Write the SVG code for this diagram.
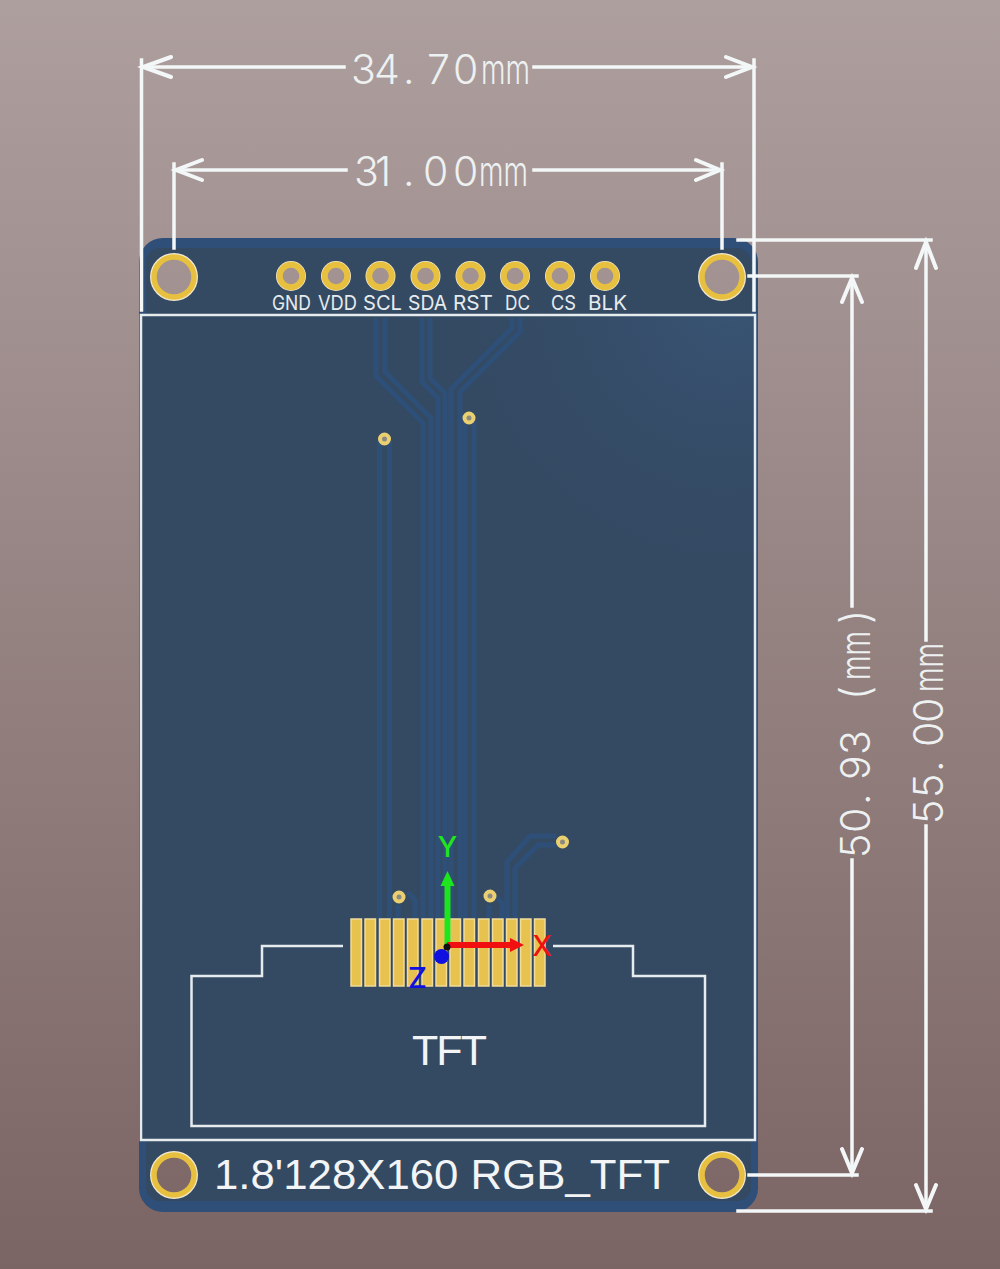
<svg xmlns="http://www.w3.org/2000/svg" width="1000" height="1269" viewBox="0 0 1000 1269">
<style>
.dim{stroke:#f3f7f8;stroke-width:3.5;fill:none;stroke-linecap:square}
.head{stroke:#f3f7f8;stroke-width:4;fill:none;stroke-linecap:round;stroke-linejoin:miter}
.dt{font-family:"Inter","Liberation Sans",sans-serif;font-weight:300;fill:#eef1f1;font-size:41px}
.pl{font-family:"Inter","Liberation Sans",sans-serif;font-weight:400;fill:#e6ebee;font-size:20px}
.silk{font-family:"Liberation Sans",sans-serif;fill:#f2f4f5}
.out{stroke:#e6ebee;stroke-width:2.500;fill:none}
.tr{stroke:#2e4f78;stroke-width:5;fill:none;stroke-linejoin:miter}
.hole{fill:url(#bg);stroke:#e8c040;stroke-width:5.500}
.halo{fill:#f3ead0}
.pin{fill:url(#bg);stroke:#e8c040;stroke-width:6}
.via{fill:#8c8a80;stroke:#ead070;stroke-width:4}
.pad{fill:#e8c24f;stroke:#f1dc9b;stroke-width:1.500}
.ax{font-family:"Inter","Liberation Sans",sans-serif;font-weight:500;font-size:28px}
</style>
<defs>
<linearGradient id="bg" gradientUnits="userSpaceOnUse" x1="0" y1="0" x2="0" y2="1269">
<stop offset="0" stop-color="#ad9f9e"/><stop offset="1" stop-color="#7b6564"/>
</linearGradient>
<radialGradient id="shine" gradientUnits="userSpaceOnUse" cx="730" cy="300" r="300">
<stop offset="0" stop-color="#3a587c" stop-opacity=".7"/><stop offset="1" stop-color="#344a63" stop-opacity="0"/>
</radialGradient>
</defs>
<rect id="background" width="1000" height="1269" fill="url(#bg)"/>
<g id="board">
<rect x="139" y="238" width="619" height="974" rx="24" fill="#2f4e78"/>
<rect x="146" y="248" width="605" height="953" rx="14" fill="#344a63"/>
<rect x="141" y="316" width="613" height="824" fill="#344a63"/>
<rect x="141" y="316" width="613" height="824" fill="url(#shine)"/>
<rect x="141" y="315" width="614" height="825" class="out"/>
</g>
<g id="traces">
<path class="tr" d="M376 318V376L423 423V918M385 318V372L431 418V918M422 318V382L438 398V918M430 318V378L445 393V918M512 318V328L451 389V918M520 318V332L460 392V918"/>
<path class="tr" d="M465 420V918M474 420V918M379.500 440V918M389.500 440V918"/>
<path class="tr" d="M556 836H530L507 862V918M556 845H538L515 868V918"/>
<path class="tr" d="M408 892L415 900V918M398 905V918M497 897L502 903V918M489 905V918"/>
</g>
<g id="silk-outline"><path class="out" d="M343 946H262V976H191.500V1126H705V976H633V946H553"/></g>
<g id="pads">
<rect class="pad" x="351" y="919" width="10.500" height="67"/><rect class="pad" x="365" y="919" width="10.500" height="67"/><rect class="pad" x="379.500" y="919" width="10.500" height="67"/><rect class="pad" x="393.500" y="919" width="10.500" height="67"/><rect class="pad" x="407.500" y="919" width="10.500" height="67"/><rect class="pad" x="422" y="919" width="10.500" height="67"/><rect class="pad" x="436" y="919" width="10.500" height="67"/><rect class="pad" x="450" y="919" width="10.500" height="67"/><rect class="pad" x="464" y="919" width="10.500" height="67"/><rect class="pad" x="478.500" y="919" width="10.500" height="67"/><rect class="pad" x="492.500" y="919" width="10.500" height="67"/><rect class="pad" x="506.500" y="919" width="10.500" height="67"/><rect class="pad" x="520.500" y="919" width="10.500" height="67"/><rect class="pad" x="534.500" y="919" width="10.500" height="67"/>
</g>
<g id="mount-holes">
<circle class="halo" cx="174" cy="277" r="24"/><circle class="hole" cx="174" cy="277" r="20"/>
<circle class="halo" cx="722" cy="277" r="24"/><circle class="hole" cx="722" cy="277" r="20"/>
<circle class="halo" cx="174" cy="1175" r="24"/><circle class="hole" cx="174" cy="1175" r="20"/>
<circle class="halo" cx="722" cy="1175" r="24"/><circle class="hole" cx="722" cy="1175" r="20"/>
</g>
<g id="pins">
<circle class="halo" cx="291" cy="276" r="15"/><circle class="pin" cx="291" cy="276" r="11.300"/>
<circle class="halo" cx="336" cy="276" r="15"/><circle class="pin" cx="336" cy="276" r="11.300"/>
<circle class="halo" cx="380.500" cy="276" r="15"/><circle class="pin" cx="380.500" cy="276" r="11.300"/>
<circle class="halo" cx="425.500" cy="276" r="15"/><circle class="pin" cx="425.500" cy="276" r="11.300"/>
<circle class="halo" cx="470.500" cy="276" r="15"/><circle class="pin" cx="470.500" cy="276" r="11.300"/>
<circle class="halo" cx="515" cy="276" r="15"/><circle class="pin" cx="515" cy="276" r="11.300"/>
<circle class="halo" cx="560" cy="276" r="15"/><circle class="pin" cx="560" cy="276" r="11.300"/>
<circle class="halo" cx="605" cy="276" r="15"/><circle class="pin" cx="605" cy="276" r="11.300"/>
</g>
<g id="vias">
<circle class="via" cx="384.500" cy="439" r="4.500"/><circle class="via" cx="469" cy="418" r="4.500"/><circle class="via" cx="562.500" cy="842" r="4.500"/><circle class="via" cx="399" cy="897" r="4.500"/><circle class="via" cx="490" cy="896" r="4.500"/>
</g>
<g id="pin-labels">
<text class="pl" x="272" y="310" textLength="39" lengthAdjust="spacingAndGlyphs">GND</text>
<text class="pl" x="318" y="310" textLength="39" lengthAdjust="spacingAndGlyphs">VDD</text>
<text class="pl" x="363" y="310" textLength="39" lengthAdjust="spacingAndGlyphs">SCL</text>
<text class="pl" x="408" y="310" textLength="39" lengthAdjust="spacingAndGlyphs">SDA</text>
<text class="pl" x="453" y="310" textLength="40" lengthAdjust="spacingAndGlyphs">RST</text>
<text class="pl" x="505" y="310" textLength="25" lengthAdjust="spacingAndGlyphs">DC</text>
<text class="pl" x="551" y="310" textLength="25" lengthAdjust="spacingAndGlyphs">CS</text>
<text class="pl" x="588" y="310" textLength="39" lengthAdjust="spacingAndGlyphs">BLK</text>
</g>
<text id="tft-label" class="silk" x="412" y="1065" font-size="43" textLength="75" lengthAdjust="spacing">TFT</text>
<text id="board-label" class="silk" x="214" y="1189" font-size="43" textLength="456" lengthAdjust="spacingAndGlyphs">1.8'128X160 RGB_TFT</text>
<g id="connectors">
<path class="dim" d="M141.500 60V310M754 60V310M143 67H344M534 67H752"/>
<path class="head" d="M171 57L143 67L171 77M726 57L752 67L726 77"/>
<path class="dim" d="M174 164V248M722 164V248M176 170H346M534 170H720"/>
<path class="head" d="M202 160L176 170L202 180M696 160L720 170L696 180"/>
<path class="dim" d="M738 240H931M749 276H857M749 1175H857M738 1211H931"/>
<path class="dim" d="M852 278V606M852 860V1173M926 242V640M926 826V1209"/>
<path class="head" d="M842 302L852 278L862 302M842 1149L852 1173L862 1149M916 268L926 242L936 268M916 1185L926 1209L936 1185"/>
</g>
<g id="dimension-labels">
<text class="dt" x="351 374 403 427 453" y="84">34.70<tspan x="481" textLength="49" lengthAdjust="spacingAndGlyphs">mm</tspan></text>
<text class="dt" x="354 375 403 423 453" y="186">31.00<tspan x="479" textLength="49" lengthAdjust="spacingAndGlyphs">mm</tspan></text>
<text class="dt" transform="translate(870 858) rotate(-90)" x="0 25 53 78 103 130 158">50.93 (<tspan x="178" textLength="49" lengthAdjust="spacingAndGlyphs">mm</tspan><tspan x="234">)</tspan></text>
<text class="dt" transform="translate(943 824) rotate(-90)" x="0 26 52 77 101">55.00<tspan x="132" textLength="49" lengthAdjust="spacingAndGlyphs">mm</tspan></text>
</g>
<g id="axes">
<path d="M447.500 946V882" stroke="#1ee61e" stroke-width="6" fill="none"/>
<path d="M447.500 871L440.500 886H454.500Z" fill="#1ee61e"/>
<path d="M447 945H510" stroke="#f01010" stroke-width="6" fill="none"/>
<path d="M524 945L510 938V952Z" fill="#f01010"/>
<circle cx="441.500" cy="956.500" r="7.500" fill="#1010e0"/>
<circle cx="447" cy="947" r="3.500" fill="#101010"/>
<text class="ax" x="447.500" y="857" text-anchor="middle" fill="#1ee61e">Y</text>
<text class="ax" x="542" y="956" text-anchor="middle" fill="#f01010">X</text>
<text class="ax" x="408" y="988" textLength="19" lengthAdjust="spacingAndGlyphs" fill="#1010e0">Z</text>
</g>
</svg>
